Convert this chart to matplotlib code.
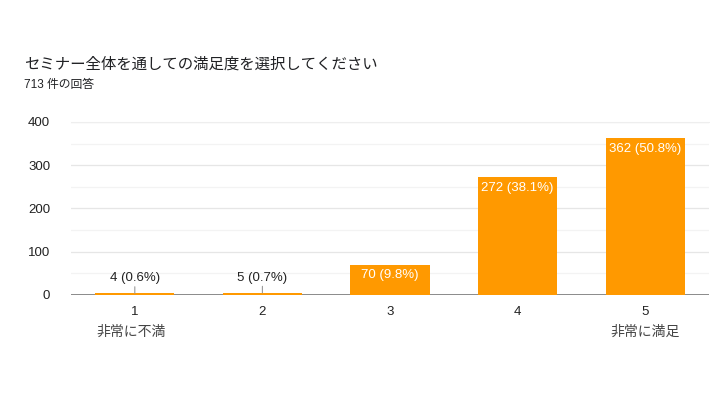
import numpy as np
import matplotlib.pyplot as plt
from matplotlib.ticker import MultipleLocator

plt.rcParams['font.family'] = ['Liberation Sans', 'Noto Sans CJK JP', 'DejaVu Sans']

# data
categories = ['1', '2', '3', '4', '5']
counts = [4, 5, 70, 272, 362]
percents = [0.6, 0.7, 9.8, 38.1, 50.8]
low_label = '非常に不満'
high_label = '非常に満足'
title = 'セミナー全体を通しての満足度を選択してください'
subtitle = '713 件の回答'

bar_color = '#ff9900'

fig = plt.figure(figsize=(7.1, 3.99), dpi=100)
ax = fig.add_axes([0.1, 0.2607, 0.8986, 0.4336])

x = np.arange(1, len(categories) + 1)
ax.bar(x, counts, width=0.62, color=bar_color, zorder=5)

ax.set_xlim(0.5, 5.5)
ax.set_ylim(0, 400)
ax.yaxis.set_major_locator(MultipleLocator(100))
ax.yaxis.set_minor_locator(MultipleLocator(50))
ax.grid(axis='y', which='major', color='#e6e6e6', lw=0.9, zorder=0)
ax.grid(axis='y', which='minor', color='#f3f3f3', lw=0.9, zorder=0)
ax.axhline(0, color='#777777', lw=1.2, zorder=4)
for s in ['left', 'right', 'bottom']:
    ax.spines[s].set_visible(False)
ax.spines['top'].set_color('#eeeeee')
ax.tick_params(axis='both', which='both', length=0, labelsize=9.5, colors='#222222')
ax.tick_params(axis='y', pad=15)
ax.tick_params(axis='x', pad=8)
ax.set_xticks(x)
ax.set_xticklabels(categories)

for xi, c, p in zip(x, counts, percents):
    lab = f'{c} ({p}%)'
    if c > 40:
        ax.annotate(lab, (xi, c), xytext=(0, -7.5), textcoords='offset points',
                    ha='center', va='center', color='white', fontsize=9.5, zorder=6)
    else:
        ax.annotate(lab, (xi, c), xytext=(0, 11), textcoords='offset points',
                    ha='center', va='center', color='#222222', fontsize=9.5, zorder=6,
                    arrowprops=dict(arrowstyle='-', color='#999999', lw=0.8,
                                    shrinkA=5, shrinkB=0))

ax.annotate(low_label, (1, -0.215), xycoords=ax.get_xaxis_transform(), xytext=(-3, 0),
            textcoords='offset points', ha='center', va='center', fontsize=10, color='#444444')
ax.annotate(high_label, (5, -0.215), xycoords=ax.get_xaxis_transform(), xytext=(0, 0),
            textcoords='offset points', ha='center', va='center', fontsize=10, color='#444444')

fig.text(24 / 710, 1 - 64 / 399, title, fontsize=11.1, color='#202124', va='center')
fig.text(24 / 710, 1 - 85 / 399, subtitle, fontsize=8.5, color='#202124', va='center')

fig.savefig('out.png', dpi=100, facecolor='white')
